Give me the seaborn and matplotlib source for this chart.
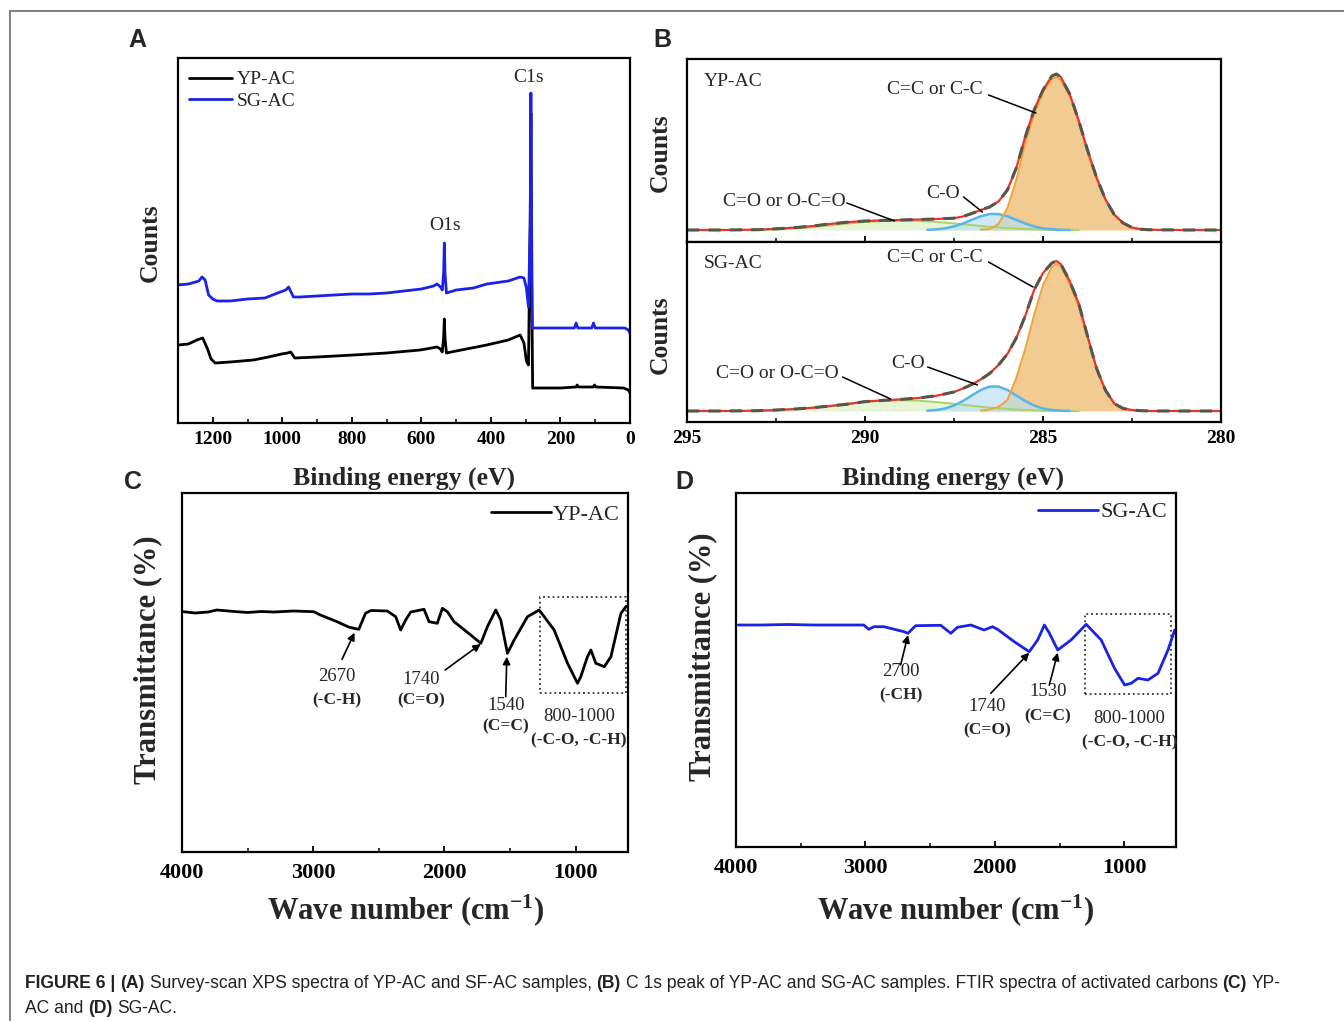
import matplotlib
matplotlib.use("Agg")
import matplotlib.pyplot as plt
import seaborn as sns
from matplotlib import font_manager
from matplotlib.lines import Line2D
from matplotlib.patches import Rectangle
from matplotlib.ticker import MultipleLocator

# ---------------- data ----------------
# (A) XPS survey, binding energy (eV) vs counts (arbitrary units)
A_BE_SG = [1300, 1270, 1250, 1240, 1231, 1222, 1212, 1200, 1188, 1150,
           1100, 1050, 1006, 990, 982, 975, 968, 950, 900, 850,
           800, 750, 700, 650, 600, 565, 555, 545, 540, 536,
           534, 532, 528, 500, 450, 412, 350, 316, 305, 298,
           292, 287, 285, 283, 281, 200, 160, 155, 150, 110,
           105, 100, 40, 15, 5, 0]
A_SG = [138, 139, 141, 142, 146, 143, 128, 124, 122, 122,
        124, 125, 131, 133, 136, 131, 126, 126, 127, 128,
        129, 129, 130, 132, 134, 137, 139, 136, 133, 150,
        180, 150, 130, 133, 135, 139, 142, 146, 145, 135,
        116, 200, 330, 200, 95, 95, 95, 100, 95, 95,
        100, 95, 95, 95, 93, 90]
A_BE_YP = [1300, 1270, 1246, 1229, 1215, 1205, 1193, 1150, 1083, 1040,
           1002, 985, 976, 964, 900, 795, 700, 603, 555, 545,
           540, 536, 534, 532, 528, 500, 412, 350, 316, 305,
           298, 292, 287, 285, 283, 280, 200, 155, 152, 148,
           105, 102, 98, 18, 5, 0]
A_YP = [78, 79, 83, 85, 74, 64, 60, 61, 63, 66,
        69, 70, 71, 65, 66, 68, 70, 73, 76, 74,
        71, 85, 104, 85, 70, 72, 78, 83, 88, 80,
        62, 58, 200, 310, 150, 35, 35, 36, 38, 36,
        36, 38, 36, 35, 33, 30]

# (B) C 1s high resolution, binding energy (eV) vs counts
B_ENV_X = [295, 294, 293, 292.5, 292, 291.5, 291, 290.5, 290, 289.5,
           289, 288.5, 288, 287.5, 287.25, 287, 286.75, 286.5, 286.25, 286,
           285.75, 285.5, 285.25, 285, 284.75, 284.625, 284.5, 284.25, 284, 283.75,
           283.5, 283.25, 283, 282.75, 282.5, 282.25, 282, 281, 280]
B_ENV_YP = [0, 0, 0.3, 1.2, 2.3, 3.9, 6.0, 7.8, 9.0, 9.6,
            10.0, 10.5, 11.0, 11.8, 13.5, 16.5, 20, 23, 28.5, 40,
            62, 93, 120, 140, 154, 156, 153, 136, 110, 80,
            53, 31, 15.5, 7, 2.5, 0.8, 0.2, 0, 0]
B_ENV_SG = [0, 0, 0.3, 1.0, 1.9, 3.2, 4.9, 6.8, 9.4, 10.6,
            11.6, 13.0, 15.2, 19.0, 22.5, 26.5, 31.5, 37.5, 46, 57,
            73, 95, 121, 138, 148, 150, 147, 130, 108, 75,
            43, 21, 7.5, 2.5, 1, 0.3, 0, 0, 0]

B_CC_X = [286.75, 286.5, 286.25, 286.0, 285.75, 285.5, 285.25, 285.0, 284.75, 284.625,
          284.5, 284.25, 284.0, 283.75, 283.5, 283.25, 283.0, 282.75, 282.5, 282.25, 282.0]
B_CC_YP = [0.3, 1, 6, 22, 50, 86, 116, 138, 151, 153,
           150, 134, 108, 78, 51, 30, 15, 6.5, 2.3, 0.7, 0]
B_CC_SG = [0.3, 1.5, 4, 11, 33, 62, 96, 126, 144, 147,
           145, 127, 105, 74, 43, 21, 7.5, 2.5, 0.8, 0.2, 0]

B_CO_X = [288.25, 288.0, 287.75, 287.5, 287.25, 287.0, 286.75, 286.5, 286.25, 286.0,
          285.75, 285.5, 285.25, 285.0, 284.75, 284.5, 284.25]
B_CO_YP = [0.2, 0.7, 1.6, 3.6, 6.5, 10.2, 13.7, 16, 16, 13.7,
           10.2, 6.5, 3.6, 1.6, 0.7, 0.2, 0]
B_CO_SG = [0.3, 1, 2.5, 5.5, 10, 15.5, 21, 24.5, 24.5, 21,
           15.5, 10, 5.5, 2.5, 1, 0.3, 0]

B_OCO_X = [293.0, 292.5, 292.0, 291.5, 291.0, 290.5, 290.0, 289.5, 289.0, 288.5,
           288.0, 287.5, 287.0, 286.5, 286.0, 285.5, 285.0, 284.5, 284.0]
B_OCO_YP = [0, 0.5, 1.4, 2.8, 4.6, 6.4, 8.0, 9.0, 9.4, 9.1,
            8.1, 6.6, 4.9, 3.2, 1.9, 1.0, 0.4, 0.1, 0]
B_OCO_SG = [0, 0.6, 1.6, 3.2, 5.2, 7.4, 9.2, 10.4, 10.8, 10.3,
            9.0, 7.2, 5.2, 3.4, 2.0, 1.0, 0.4, 0.1, 0]

# (C) FTIR YP-AC, wave number (cm-1) vs transmittance (arbitrary units)
C_WN = [3990, 3900, 3800, 3735, 3600, 3500, 3400, 3300, 3150, 2996,
        2945, 2818, 2730, 2690, 2652, 2601, 2560, 2435, 2371, 2333,
        2295, 2256, 2155, 2117, 2054, 2015, 1977, 1926, 1799, 1722,
        1672, 1608, 1570, 1519, 1468, 1366, 1277, 1163, 1061, 985,
        960, 909, 883, 845, 781, 730, 654, 616]
C_T = [240.3, 239, 240, 242, 240.5, 239.5, 240.5, 240, 241, 240.3,
       237, 230.3, 225, 223.7, 222.7, 238.7, 241.5, 241, 235.3, 222,
       232, 240, 242.7, 230.3, 228.7, 243.7, 240.3, 230.3, 217, 208.7,
       225.3, 242, 232, 198.7, 212, 235.3, 242, 222, 188.7, 168.7,
       175.3, 195.3, 202, 188.7, 185.3, 195.3, 238.7, 245.3]

# (D) FTIR SG-AC
D_WN = [3982, 3800, 3600, 3400, 3200, 3013, 2974, 2935, 2857, 2702,
        2671, 2612, 2418, 2340, 2289, 2186, 2083, 2018, 1979, 1850,
        1734, 1669, 1617, 1578, 1514, 1411, 1294, 1178, 1075, 997,
        946, 894, 817, 739, 662, 610]
D_T = [222, 222, 222.5, 222, 222, 222, 217.7, 220.3, 220.3, 215.3,
       213.7, 221.3, 221.7, 213.7, 219.7, 222, 217, 220.3, 217.7, 205.3,
       195.3, 207, 222, 213.7, 197, 207, 222.7, 207, 178.7, 162,
       163.7, 168.7, 167, 173.7, 197, 217]

# ---------------- style ----------------
W, H = 1344, 1021
sns.set_theme(style="ticks")
plt.rcParams.update({
    "font.family": ["Liberation Serif", "DejaVu Serif"],
    "font.weight": "bold",
    "mathtext.fontset": "custom",
    "mathtext.rm": "Liberation Serif:bold",
    "mathtext.bf": "Liberation Serif:bold",
    "mathtext.it": "Liberation Serif:bold:italic",
    "axes.linewidth": 1.6,
    "axes.edgecolor": "black",
    "xtick.direction": "in",
    "ytick.direction": "in",
    "xtick.color": "black",
})

fig = plt.figure(figsize=(W / 100, H / 100), dpi=100)
fig.patch.set_facecolor("white")


def box(left, top, right, bottom):
    return [left / W, 1 - bottom / H, (right - left) / W, (bottom - top) / H]


def ftext(x, y, s, **kw):
    return fig.text(x / W, 1 - y / H, s, **kw)


def style_axes(ax, major, minor, labelsize, pad, labels=True):
    ax.set_yticks([])
    ax.xaxis.set_major_locator(MultipleLocator(major))
    ax.xaxis.set_minor_locator(MultipleLocator(minor))
    ax.tick_params(axis="x", which="major", length=4.5, width=1.3,
                   labelsize=labelsize, pad=pad, labelbottom=labels)
    ax.tick_params(axis="x", which="minor", length=3, width=1.1)
    for sp in ax.spines.values():
        sp.set_visible(True)
        sp.set_linewidth(1.6)
        sp.set_color("black")
    ax.set_facecolor("white")


SG_BLUE = "#1b22e6"

# ---------------- (A) survey ----------------
ax_a = fig.add_axes(box(178, 58, 630, 423))
sns.lineplot(x=A_BE_YP, y=A_YP, ax=ax_a, color="black", lw=2.0, sort=False,
             estimator=None, label="YP-AC")
sns.lineplot(x=A_BE_SG, y=A_SG, ax=ax_a, color=SG_BLUE, lw=2.0, sort=False,
             estimator=None, label="SG-AC")
ax_a.set_xlim(1300, 0)
ax_a.set_ylim(0, 365)
style_axes(ax_a, 200, 100, 14, 6)
ax_a.legend(loc="upper left", bbox_to_anchor=(0.025, 0.965), frameon=False,
            borderpad=0, borderaxespad=0, handlelength=2.2, handletextpad=0.25,
            labelspacing=0.2, prop={"family": "Liberation Serif", "weight": "normal", "size": 14})
ax_a.text(532, 198, "O1s", ha="center", va="center", fontsize=14, weight="normal")
ax_a.text(293, 346, "C1s", ha="center", va="center", fontsize=14, weight="normal")

# ---------------- (B) C 1s fits ----------------
ax_b1 = fig.add_axes(box(687, 59, 1221, 242))
ax_b2 = fig.add_axes(box(687, 242, 1221, 422))

CC_FILL, CC_EDGE = "#f2c98c", "#eea43c"
CO_FILL, CO_EDGE = "#b9def2", "#56b5e9"
OCO_FILL, OCO_EDGE = "#d9efb8", "#a6d46a"


def draw_c1s(ax, cc, co, oco, env):
    ax.fill_between(B_CC_X, 0, cc, color=CC_FILL, alpha=0.95, lw=0)
    ax.fill_between(B_OCO_X, 0, oco, color=OCO_FILL, alpha=0.6, lw=0)
    ax.fill_between(B_CO_X, 0, co, color=CO_FILL, alpha=0.65, lw=0)
    sns.lineplot(x=B_OCO_X, y=oco, ax=ax, color=OCO_EDGE, lw=1.4, sort=False, estimator=None)
    sns.lineplot(x=B_CO_X, y=co, ax=ax, color=CO_EDGE, lw=1.8, sort=False, estimator=None)
    sns.lineplot(x=B_CC_X, y=cc, ax=ax, color=CC_EDGE, lw=1.4, sort=False, estimator=None)
    sns.lineplot(x=B_ENV_X, y=env, ax=ax, color="#e8352b", lw=1.6, sort=False, estimator=None)
    sns.lineplot(x=B_ENV_X, y=env, ax=ax, color="#56564a", lw=2.2, sort=False,
                 estimator=None, dashes=False, linestyle=(0, (4, 3)))
    ax.set_xlim(295, 280)


draw_c1s(ax_b1, B_CC_YP, B_CO_YP, B_OCO_YP, B_ENV_YP)
draw_c1s(ax_b2, B_CC_SG, B_CO_SG, B_OCO_SG, B_ENV_SG)
ax_b1.set_ylim(-12, 171)
ax_b2.set_ylim(-11, 169)
style_axes(ax_b1, 5, 2.5, 14, 6, labels=False)
style_axes(ax_b2, 5, 2.5, 14, 6)
ax_b2.set_xticks([295, 290, 285, 280])

kw_b = dict(fontsize=14, weight="normal")
ax_b1.text(294.52, 148, "YP-AC", ha="left", va="center", **kw_b)
ax_b2.text(294.52, 148, "SG-AC", ha="left", va="center", **kw_b)


def leader(ax, text, tx, ty, p0, p1):
    ax.text(tx, ty, text, ha="center", va="center", **kw_b)
    ax.plot([p0[0], p1[0]], [p0[1], p1[1]], color="black", lw=1.1)


leader(ax_b1, "C=C or C-C", 288.05, 140, (286.53, 135), (285.2, 117))
leader(ax_b1, "C-O", 287.8, 37, (287.23, 33), (286.7, 18))
leader(ax_b1, "C=O or O-C=O", 292.28, 28, (290.51, 27), (289.17, 9))
leader(ax_b2, "C=C or C-C", 288.05, 153, (286.53, 149), (285.28, 124))
leader(ax_b2, "C-O", 288.8, 48, (288.24, 44), (286.84, 26))
leader(ax_b2, "C=O or O-C=O", 292.45, 38, (290.63, 34), (289.28, 12))

# ---------------- (C), (D) FTIR ----------------
ax_c = fig.add_axes(box(182, 493, 628, 852))
ax_d = fig.add_axes(box(736, 493, 1176, 847))
sns.lineplot(x=C_WN, y=C_T, ax=ax_c, color="black", lw=2.0, sort=False,
             estimator=None, label="YP-AC")
sns.lineplot(x=D_WN, y=D_T, ax=ax_d, color=SG_BLUE, lw=2.0, sort=False,
             estimator=None, label="SG-AC")
for ax, top in ((ax_c, 359), (ax_d, 354)):
    ax.set_xlim(4000, 600)
    ax.set_ylim(0, top)
    style_axes(ax, 1000, 500, 16, 8)
ax_c.legend(loc="upper right", bbox_to_anchor=(0.982, 0.968), frameon=False,
            borderpad=0, borderaxespad=0, handlelength=2.7, handletextpad=0.1,
            prop={"family": "Liberation Serif", "weight": "normal", "size": 16})
ax_d.legend(loc="upper right", bbox_to_anchor=(0.98, 0.975), frameon=False,
            borderpad=0, borderaxespad=0, handlelength=2.7, handletextpad=0.1,
            prop={"family": "Liberation Serif", "weight": "normal", "size": 16})

ax_c.add_patch(Rectangle((1270, 159.3), 616 - 1270, 96, fill=False, ls=":", lw=1.3, ec="#333333"))
ax_d.add_patch(Rectangle((1300, 153), 636 - 1300, 79.7, fill=False, ls=":", lw=1.3, ec="#333333"))


def peak_note(ax, num, group, x, y_num, y_grp, tail=None, tip=None):
    ax.text(x, y_num, num, ha="center", va="center", fontsize=13.5, weight="normal")
    ax.text(x, y_grp, group, ha="center", va="center", fontsize=12.5, weight="bold")
    if tail is not None:
        ax.annotate("", xy=tip, xytext=tail,
                    arrowprops=dict(arrowstyle="-|>", color="black", lw=1.2,
                                    mutation_scale=11, shrinkA=0, shrinkB=0))


peak_note(ax_c, "2670", "(-C-H)", 2818, 175.3, 152, (2780, 192.7), (2685, 219.3))
peak_note(ax_c, "1740", "(C=O)", 2180, 172.7, 152, (1994, 182), (1722, 208))
peak_note(ax_c, "1540", "(C=C)", 1532, 146, 126, (1532, 155.3), (1524, 195.3))
peak_note(ax_c, "800-1000", "(-C-O, -C-H)", 972, 135.3, 112)
peak_note(ax_d, "2700", "(-CH)", 2728, 175.3, 152, (2728, 182), (2671, 212))
peak_note(ax_d, "1740", "(C=O)", 2056, 140.3, 117, (2031, 153.7), (1734, 194.3))
peak_note(ax_d, "1530", "(C=C)", 1591, 155.3, 130.3, (1579, 162), (1514, 194.3))
peak_note(ax_d, "800-1000", "(-C-O, -C-H)", 959, 128.7, 104.3)

# ---------------- axis labels, panel letters ----------------
lab = dict(weight="bold", ha="center", va="center")
ftext(150, 243, "Counts", rotation=90, fontsize=18.5, **lab)
ftext(404, 478, "Binding energy (eV)", fontsize=18.5, **lab)
ftext(660, 153, "Counts", rotation=90, fontsize=18.5, **lab)
ftext(660, 335, "Counts", rotation=90, fontsize=18.5, **lab)
ftext(953, 478, "Binding energy (eV)", fontsize=18.5, **lab)
ftext(148, 660, "Transmittance (%)", rotation=90, fontsize=22, **lab)
ftext(405, 910, "Wave number (cm$^{-1}$)", fontsize=22, **lab)
ftext(703, 657, "Transmittance (%)", rotation=90, fontsize=22, **lab)
ftext(955, 910, "Wave number (cm$^{-1}$)", fontsize=22, **lab)

for letter, x, y in (("A", 137, 40), ("B", 662, 40), ("C", 133, 482), ("D", 684, 482)):
    ftext(x, y, letter, fontsize=18, family=["Liberation Sans", "DejaVu Sans"], **lab)

# frame lines
fig.add_artist(Line2D([10 / W, 1], [1 - 11 / H, 1 - 11 / H], transform=fig.transFigure,
                      color="#777777", lw=1.3))
fig.add_artist(Line2D([10 / W, 10 / W], [0, 1 - 11 / H], transform=fig.transFigure,
                      color="#777777", lw=1.3))

# ---------------- caption with bold runs ----------------
names = {f.name for f in font_manager.fontManager.ttflist}
cap_family = ["Liberation Sans Narrow"] if "Liberation Sans Narrow" in names else ["Liberation Sans"]
renderer = fig.canvas.get_renderer()

line1 = [("FIGURE 6 | ", True), ("(A)", True),
         (" Survey-scan XPS spectra of YP-AC and SF-AC samples, ", False), ("(B)", True),
         (" C 1s peak of YP-AC and SG-AC samples. FTIR spectra of activated carbons ", False),
         ("(C)", True), (" YP-", False)]
line2 = [("AC and ", False), ("(D)", True), (" SG-AC.", False)]


def text_width(s, bold, size):
    t = fig.text(0, 0, s, fontsize=size, weight="bold" if bold else "normal", family=cap_family)
    w = t.get_window_extent(renderer).width
    t.remove()
    return w


def split_run(s):
    core = s.strip()
    if not core:
        return len(s), "", 0
    return len(s) - len(s.lstrip()), core, len(s) - len(s.rstrip())


def run_width(runs, size):
    sp = text_width("x x", False, size) - text_width("xx", False, size)
    total = 0.0
    for s, b in runs:
        lead, core, trail = split_run(s)
        total += (lead + trail) * sp
        if core:
            total += text_width(core, b, size)
    return total, sp


def draw_runs(runs, x, y, size):
    _, sp = run_width(runs, size)
    for s, b in runs:
        lead, core, trail = split_run(s)
        x += lead * sp
        if core:
            t = ftext(x, y, core, fontsize=size, weight="bold" if b else "normal",
                      family=cap_family, ha="left", va="baseline", color="#222222")
            x += t.get_window_extent(renderer).width
        x += trail * sp


base_size = 11.0
w1, _ = run_width(line1, base_size)
cap_size = base_size * (1256.0 / w1)
draw_runs(line1, 25, 988, cap_size)
draw_runs(line2, 25, 1013, cap_size)

fig.savefig("out.png", dpi=100)
